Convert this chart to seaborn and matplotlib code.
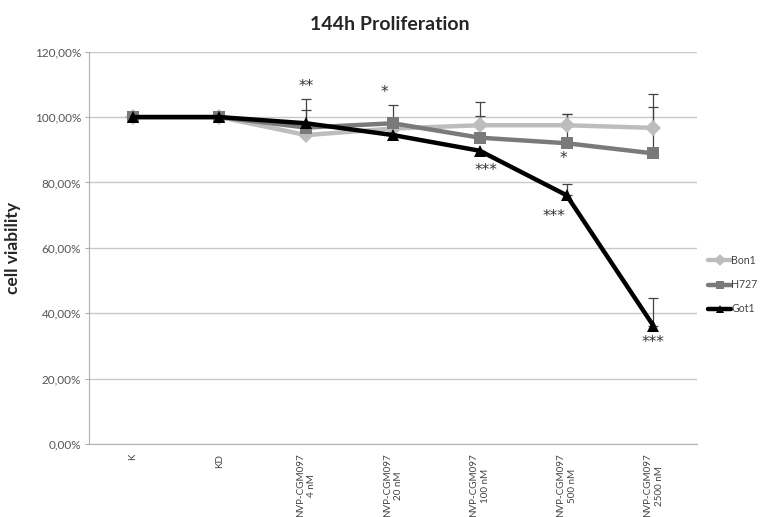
import matplotlib
matplotlib.use("Agg")
import matplotlib.pyplot as plt
import seaborn as sns
import pandas as pd
import numpy as np

# data
conditions = ["K", "KD", "NVP-CGM097\n4 nM", "NVP-CGM097\n20 nM",
              "NVP-CGM097\n100 nM", "NVP-CGM097\n500 nM", "NVP-CGM097\n2500 nM"]
cell_lines = ["Bon1", "H727", "Got1"]
bon1 = [100.0, 100.0, 94.5, 96.5, 97.5, 97.5, 96.7]
h727 = [100.0, 100.0, 96.8, 98.1, 93.7, 92.0, 88.9]
got1 = [100.0, 100.0, 98.1, 94.5, 89.7, 76.1, 36.2]
bon1_err = [0.0, 0.0, 7.6, 0.0, 7.2, 3.4, 10.3]
h727_err = [0.0, 0.0, 0.0, 5.7, 6.6, 8.9, 14.3]
got1_err = [0.0, 0.0, 7.3, 0.0, 0.0, 3.3, 8.4]
# significance marks: (condition index, offset, height in %)
star_labels = ["**", "*", "***", "*", "***", "***"]
star_pos = [2, 3, 4, 5, 5, 6]
star_shift = [0.0, -0.1, 0.07, -0.04, -0.14, 0.0]
star_y = [109.3, 107.6, 83.8, 87.4, 69.5, 31.0]

colors = {"Bon1": "#bdbdbd", "H727": "#7a7a7a", "Got1": "#000000"}
markers = {"Bon1": "D", "H727": "s", "Got1": "^"}

df = pd.DataFrame({
    "condition": conditions * 3,
    "line": np.repeat(cell_lines, len(conditions)),
    "viability": bon1 + h727 + got1,
    "err": bon1_err + h727_err + got1_err,
})

sns.set_style("white")
plt.rcParams["font.family"] = ["Lato", "DejaVu Sans"]

fig = plt.figure(figsize=(7.65, 5.17), dpi=100)
ax = fig.add_axes([0.1167, 0.1412, 0.794, 0.7588])

# error bars (plus direction only)
for name in cell_lines:
    sub = df[df["line"] == name]
    ax.errorbar(sub["condition"], sub["viability"],
                yerr=[np.zeros(len(sub)), sub["err"]],
                fmt="none", ecolor="#444444", elinewidth=0.9, capsize=3.5,
                capthick=0.9, zorder=1)

sns.lineplot(data=df, x="condition", y="viability", hue="line", style="line",
             markers=markers, dashes=False, palette=colors, sort=False,
             linewidth=3.2, markersize=8.5, markeredgewidth=0, ax=ax,
             legend=False, zorder=3)

for lab, p, s, yv in zip(star_labels, star_pos, star_shift, star_y):
    ax.text(p + s, yv, lab, ha="center", va="center", fontsize=11,
            family="DejaVu Sans", color="#333333", zorder=5)

ax.set_xlim(-0.5, len(conditions) - 0.5)
ax.set_ylim(0, 120)
ax.set_yticks(np.arange(0, 121, 20))
ax.set_yticklabels([f"{v:.2f}%".replace(".", ",") for v in np.arange(0, 121, 20)])
ax.yaxis.grid(True, color="#c8c8c8", linewidth=1)
ax.xaxis.grid(False)
for side in ["top", "right"]:
    ax.spines[side].set_visible(False)
ax.spines["left"].set_color("#b0b0b0")
ax.spines["bottom"].set_color("#b0b0b0")

ax.set_xticks(range(len(conditions)))
ax.set_xticklabels(conditions, rotation=90, fontsize=7.1, color="#444444",
                   linespacing=1.35, multialignment="center", va="top")
ax.tick_params(axis="x", length=0, pad=7)
ax.set_xticks(np.arange(-0.5, len(conditions), 1), minor=True)
ax.tick_params(axis="x", which="minor", length=3.5, color="#b0b0b0", width=1)
ax.tick_params(axis="y", length=3, color="#b0b0b0", labelsize=8.5,
               labelcolor="#555555", left=True, pad=3)

ax.set_xlabel("")
ax.set_ylabel("cell viability", fontsize=12.5, fontweight="bold", labelpad=10)
fig.suptitle("144h Proliferation", x=0.51, y=0.97, fontsize=14,
             fontweight="bold")

handles = [plt.Line2D([], [], color=colors[n], marker=markers[n], linewidth=3.2,
                      markersize=6, markeredgewidth=0) for n in cell_lines]
fig.legend(handles, cell_lines, loc="upper left", bbox_to_anchor=(0.913, 0.525),
           frameon=False, fontsize=7.6, handlelength=2.2, handletextpad=0.0,
           labelspacing=1.25, labelcolor="#444444")

fig.savefig("out.png", dpi=100)
